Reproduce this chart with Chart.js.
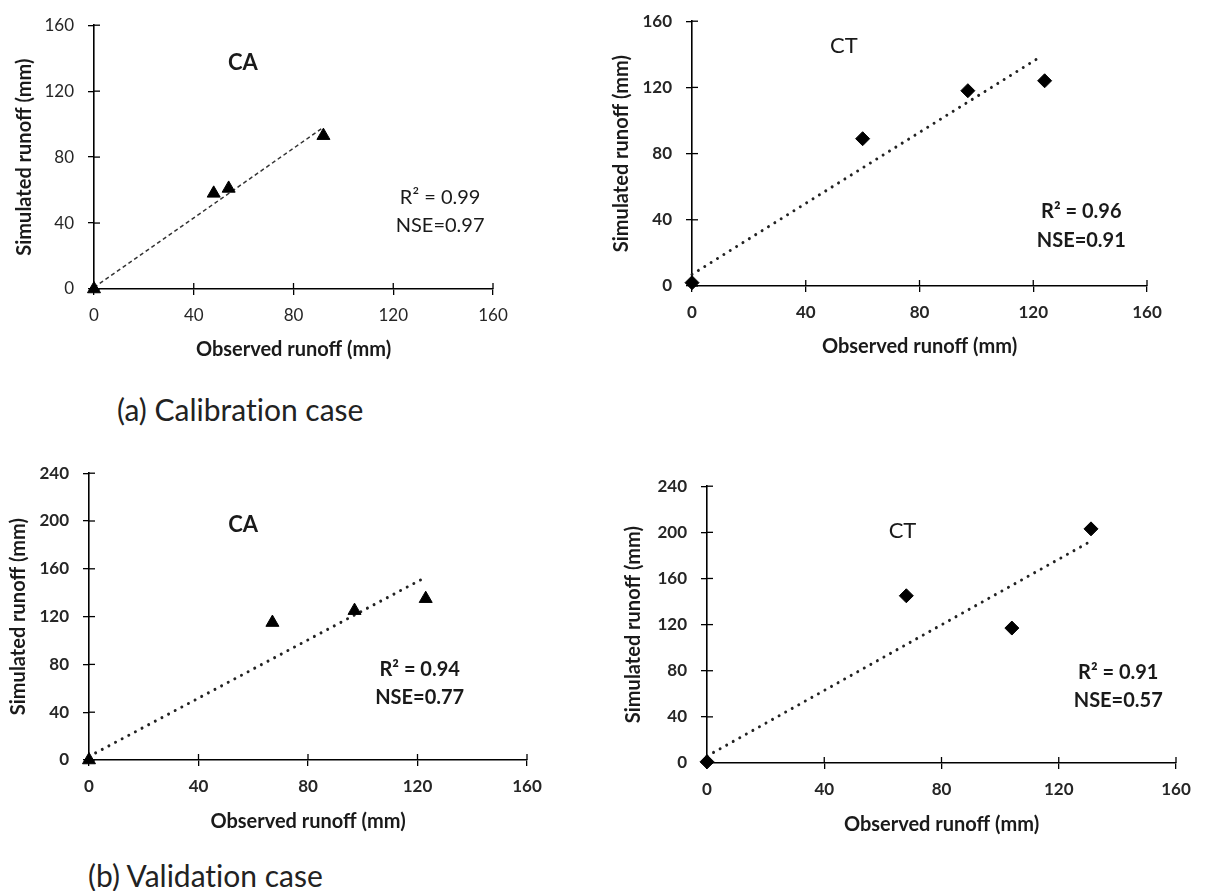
<!DOCTYPE html>
<html>
<head>
<meta charset="utf-8">
<script src="https://cdn.jsdelivr.net/npm/chart.js@4.4.0/dist/chart.umd.min.js"></script>
<style>
  body { margin: 0; background: #fff; width: 1210px; height: 891px; position: relative; overflow: hidden; font-family: Lato, sans-serif; }
  canvas { position: absolute; }
  .legenda { position: absolute; font-size: 30px; color: #222; white-space: nowrap; line-height: 36px; font-variant-ligatures: none; }
</style>
</head>
<body>
<canvas id="g1"></canvas>
<canvas id="g2"></canvas>
<canvas id="g3"></canvas>
<canvas id="g4"></canvas>
<div class="legenda" style="left:117px;top:391px">(a) Calibration case</div>
<div class="legenda" style="left:88px;top:857px">(b) Validation case</div>

<script>
// Escalas
const xTicks = [0, 40, 80, 120, 160];
const yTicksCal = [0, 40, 80, 120, 160];
const yTicksVal = [0, 40, 80, 120, 160, 200, 240];

// Calibração - CA
const calObsCA = [0, 48, 54, 92];
const calSimCA = [0, 58, 61, 93];
const calTendCAx = [0, 92];
const calTendCAy = [1, 98];

// Calibração - CT
const calObsCT = [0, 60, 97, 124];
const calSimCT = [2, 89, 118, 124];
const calTendCTx = [0, 123];
const calTendCTy = [7, 139];

// Validação - CA
const valObsCA = [0, 67, 97, 123];
const valSimCA = [0, 115, 125, 135];
const valTendCAx = [0, 123];
const valTendCAy = [3, 153];

// Validação - CT
const valObsCT = [0, 68, 104, 131];
const valSimCT = [1, 145, 117, 203];
const valTendCTx = [0, 130];
const valTendCTy = [6, 191];

// Estatísticas
const calStatsCA = ['R² = 0.99', 'NSE=0.97'];
const calStatsCT = ['R² = 0.96', 'NSE=0.91'];
const valStatsCA = ['R² = 0.94', 'NSE=0.77'];
const valStatsCT = ['R² = 0.91', 'NSE=0.57'];

const FONTE = 'Lato, sans-serif';
const TAM_TITULO = 20;
const TAM_TICK = 17;

function pares(xs, ys) {
  return xs.map((v, i) => ({ x: v, y: ys[i] }));
}

// Desenha a parte interna dos ticks (cruzando o eixo)
const ticksCruzados = {
  id: 'ticksCruzados',
  beforeDatasetsDraw(chart) {
    const ctx = chart.ctx;
    const { x, y } = chart.scales;
    ctx.save();
    ctx.strokeStyle = '#000';
    ctx.lineWidth = 1.3;
    x.ticks.forEach(t => {
      const px = x.getPixelForValue(t.value);
      ctx.beginPath();
      ctx.moveTo(px, y.bottom);
      ctx.lineTo(px, y.bottom - 6);
      ctx.stroke();
    });
    y.ticks.forEach(t => {
      const py = y.getPixelForValue(t.value);
      ctx.beginPath();
      ctx.moveTo(x.left, py);
      ctx.lineTo(x.left + 6, py);
      ctx.stroke();
    });
    ctx.restore();
  }
};

function montarGrafico(id, g) {
  const canvas = document.getElementById(id);
  const larguraY = Math.round(g.gapTituloY + TAM_TITULO * 0.6);
  const alturaX = Math.round(g.gapTituloX + TAM_TITULO * 0.6);
  const padTopo = 20, padDir = 30;
  canvas.width = larguraY + Math.round(g.dir - g.esq) + padDir;
  canvas.height = padTopo + Math.round(g.base - g.topo) + alturaX;
  canvas.style.left = Math.round(g.esq - larguraY) + 'px';
  canvas.style.top = Math.round(g.topo - padTopo) + 'px';

  // Textos dentro do gráfico (nome do tratamento e estatísticas)
  const rotulos = {
    id: 'rotulos',
    afterDatasetsDraw(chart) {
      const ctx = chart.ctx;
      const { x, y } = chart.scales;
      ctx.save();
      ctx.fillStyle = '#1a1a1a';
      ctx.textAlign = 'center';
      ctx.textBaseline = 'middle';
      g.textos.forEach(t => {
        ctx.font = t.font;
        ctx.fillText(t.texto, x.getPixelForValue(t.x), y.getPixelForValue(t.y));
      });
      ctx.restore();
    }
  };

  const pesoTick = g.tickNegrito ? 'bold' : 'normal';

  return new Chart(canvas, {
    type: 'scatter',
    data: {
      datasets: [
        {
          label: 'pontos',
          data: pares(g.obs, g.sim),
          pointStyle: g.marcador,
          pointRadius: g.raio,
          backgroundColor: '#000',
          borderColor: '#000',
          borderWidth: 1,
          clip: false
        },
        {
          label: 'tendencia',
          data: pares(g.tendX, g.tendY),
          showLine: true,
          pointRadius: 0,
          borderColor: g.tracejado ? '#333' : '#222',
          borderWidth: g.tracejado ? 1.5 : 3,
          borderDash: g.tracejado ? [4, 3] : [0.01, 7.5],
          borderCapStyle: g.tracejado ? 'butt' : 'round',
          clip: false
        }
      ]
    },
    options: {
      responsive: false,
      animation: false,
      layout: { padding: { top: padTopo, right: padDir, left: 0, bottom: 0 } },
      plugins: { legend: { display: false }, tooltip: { enabled: false } },
      scales: {
        x: {
          type: 'linear',
          min: 0,
          max: 160,
          afterBuildTicks: s => { s.ticks = xTicks.map(v => ({ value: v })); },
          ticks: { font: { family: FONTE, size: TAM_TICK, weight: pesoTick }, color: '#262626', padding: 10 },
          grid: { drawOnChartArea: false, tickLength: 6, color: '#000', lineWidth: 1.3 },
          border: { color: '#000', width: 1.6 },
          title: { display: true, text: 'Observed runoff (mm)', font: { family: FONTE, size: TAM_TITULO, weight: 'bold' }, color: '#1a1a1a', padding: 0 },
          afterFit: s => { s.height = alturaX; }
        },
        y: {
          type: 'linear',
          min: 0,
          max: g.yTicks[g.yTicks.length - 1],
          afterBuildTicks: s => { s.ticks = g.yTicks.map(v => ({ value: v })); },
          ticks: { font: { family: FONTE, size: TAM_TICK, weight: pesoTick }, color: '#262626', padding: 14 },
          grid: { drawOnChartArea: false, tickLength: 6, color: '#000', lineWidth: 1.3 },
          border: { color: '#000', width: 1.6 },
          title: { display: true, text: 'Simulated runoff (mm)', font: { family: FONTE, size: TAM_TITULO, weight: 'bold' }, color: '#1a1a1a', padding: 0 },
          afterFit: s => { s.width = larguraY; }
        }
      }
    },
    plugins: [ticksCruzados, rotulos]
  });
}

const fonteNome = '22px ' + FONTE;
const fonteStats = '20px ' + FONTE;

montarGrafico('g1', {
  esq: 94, dir: 493, topo: 21, base: 289, gapTituloY: 69, gapTituloX: 61,
  obs: calObsCA, sim: calSimCA, tendX: calTendCAx, tendY: calTendCAy,
  yTicks: yTicksCal, marcador: 'triangle', raio: 7.5, tracejado: true, tickNegrito: false,
  textos: [
    { texto: 'CA', x: 59.7, y: 137, font: 'bold ' + fonteNome },
    { texto: calStatsCA[0], x: 138.8, y: 55.2, font: fonteStats },
    { texto: calStatsCA[1], x: 138.8, y: 38.3, font: fonteStats }
  ]
});

montarGrafico('g2', {
  esq: 692, dir: 1147, topo: 17, base: 286, gapTituloY: 70, gapTituloX: 61,
  obs: calObsCT, sim: calSimCT, tendX: calTendCTx, tendY: calTendCTy,
  yTicks: yTicksCal, marcador: 'rectRot', raio: 7, tracejado: false, tickNegrito: true,
  textos: [
    { texto: 'CT', x: 53.4, y: 145.2, font: fonteNome },
    { texto: calStatsCT[0], x: 136.9, y: 44.7, font: 'bold ' + fonteStats },
    { texto: calStatsCT[1], x: 136.9, y: 27.7, font: 'bold ' + fonteStats }
  ]
});

montarGrafico('g3', {
  esq: 89, dir: 527, topo: 469, base: 760, gapTituloY: 70, gapTituloX: 62,
  obs: valObsCA, sim: valSimCA, tendX: valTendCAx, tendY: valTendCAy,
  yTicks: yTicksVal, marcador: 'triangle', raio: 7.5, tracejado: false, tickNegrito: true,
  textos: [
    { texto: 'CA', x: 56.3, y: 196.8, font: 'bold ' + fonteNome },
    { texto: valStatsCA[0], x: 120.8, y: 75.7, font: 'bold ' + fonteStats },
    { texto: valStatsCA[1], x: 120.8, y: 52.3, font: 'bold ' + fonteStats }
  ]
});

montarGrafico('g4', {
  esq: 707, dir: 1176, topo: 482, base: 763, gapTituloY: 73, gapTituloX: 62,
  obs: valObsCT, sim: valSimCT, tendX: valTendCTx, tendY: valTendCTy,
  yTicks: yTicksVal, marcador: 'rectRot', raio: 7, tracejado: false, tickNegrito: true,
  textos: [
    { texto: 'CT', x: 66.7, y: 201.5, font: fonteNome },
    { texto: valStatsCT[0], x: 140.3, y: 78.2, font: 'bold ' + fonteStats },
    { texto: valStatsCT[1], x: 140.3, y: 54.1, font: 'bold ' + fonteStats }
  ]
});
</script>
</body>
</html>
